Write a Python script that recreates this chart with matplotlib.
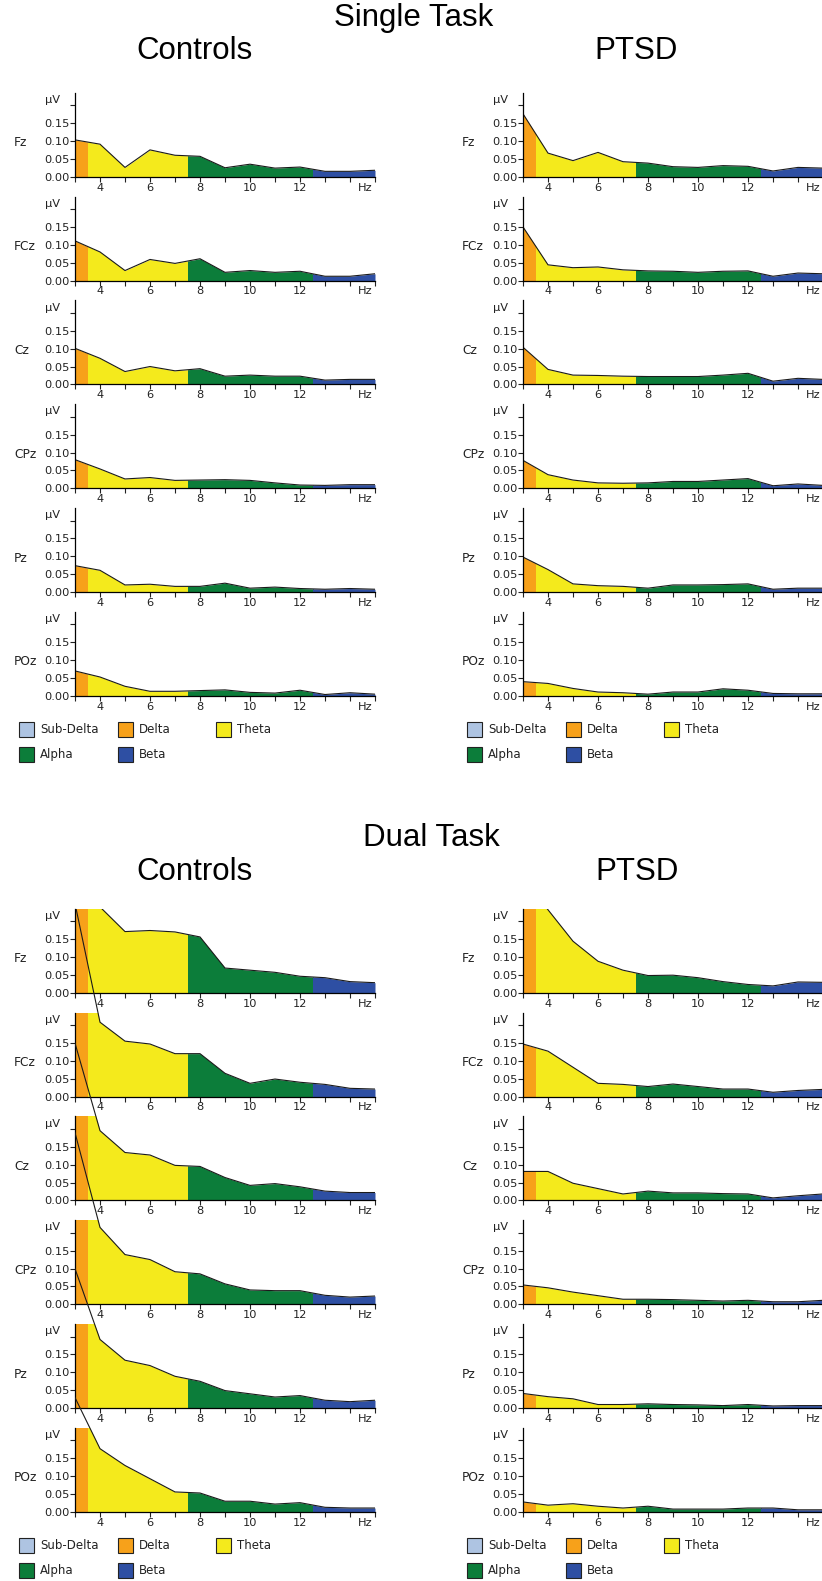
import matplotlib
matplotlib.use('Agg')
import matplotlib.pyplot as plt
from matplotlib.patches import Rectangle
from matplotlib.transforms import Bbox, TransformedBbox, blended_transform_factory

W, H = 822, 1581

freqs = [3, 4, 5, 6, 7, 8, 9, 10, 11, 12, 13, 14, 15]
electrodes = ['Fz', 'FCz', 'Cz', 'CPz', 'Pz', 'POz']

band_names = ['Sub-Delta', 'Delta', 'Theta', 'Alpha', 'Beta']
band_colors = ['#aec4e2', '#f7a11a', '#f4ea1c', '#0c7d3a', '#2e4fa3']
band_lo = [1.0, 3.0, 3.5, 7.5, 12.5]
band_hi = [3.0, 3.5, 7.5, 12.5, 15.0]

# Single task, controls (µV)
st_con_fz = [0.103, 0.091, 0.026, 0.075, 0.060, 0.057, 0.025, 0.035, 0.024, 0.027, 0.015, 0.015, 0.018]
st_con_fcz = [0.111, 0.080, 0.028, 0.059, 0.048, 0.061, 0.023, 0.028, 0.023, 0.026, 0.012, 0.012, 0.019]
st_con_cz = [0.101, 0.073, 0.036, 0.050, 0.038, 0.044, 0.023, 0.026, 0.023, 0.023, 0.012, 0.014, 0.014]
st_con_cpz = [0.080, 0.054, 0.026, 0.030, 0.022, 0.023, 0.024, 0.022, 0.015, 0.009, 0.008, 0.010, 0.010]
st_con_pz = [0.074, 0.061, 0.020, 0.022, 0.016, 0.016, 0.025, 0.011, 0.014, 0.010, 0.008, 0.010, 0.008]
st_con_poz = [0.070, 0.053, 0.027, 0.013, 0.013, 0.015, 0.017, 0.010, 0.008, 0.016, 0.004, 0.009, 0.005]

# Single task, PTSD
st_ptsd_fz = [0.176, 0.066, 0.045, 0.068, 0.042, 0.038, 0.028, 0.026, 0.031, 0.029, 0.016, 0.026, 0.024]
st_ptsd_fcz = [0.150, 0.044, 0.036, 0.038, 0.030, 0.027, 0.026, 0.023, 0.026, 0.027, 0.012, 0.021, 0.019]
st_ptsd_cz = [0.104, 0.042, 0.026, 0.025, 0.023, 0.022, 0.022, 0.022, 0.026, 0.031, 0.009, 0.017, 0.014]
st_ptsd_cpz = [0.078, 0.038, 0.023, 0.015, 0.014, 0.015, 0.019, 0.019, 0.023, 0.027, 0.007, 0.012, 0.008]
st_ptsd_pz = [0.098, 0.063, 0.023, 0.018, 0.016, 0.011, 0.020, 0.020, 0.021, 0.023, 0.008, 0.011, 0.011]
st_ptsd_poz = [0.040, 0.035, 0.021, 0.011, 0.009, 0.005, 0.011, 0.011, 0.020, 0.016, 0.007, 0.006, 0.006]

# Dual task, controls
dt_con_fz = [0.60, 0.240, 0.171, 0.174, 0.170, 0.156, 0.069, 0.063, 0.057, 0.046, 0.042, 0.031, 0.028]
dt_con_fcz = [0.54, 0.208, 0.155, 0.147, 0.120, 0.120, 0.065, 0.037, 0.049, 0.040, 0.034, 0.023, 0.021]
dt_con_cz = [0.44, 0.195, 0.134, 0.127, 0.098, 0.095, 0.064, 0.042, 0.047, 0.038, 0.026, 0.022, 0.022]
dt_con_cpz = [0.48, 0.215, 0.139, 0.125, 0.091, 0.085, 0.057, 0.040, 0.038, 0.038, 0.025, 0.020, 0.023]
dt_con_pz = [0.39, 0.192, 0.134, 0.119, 0.089, 0.075, 0.049, 0.040, 0.031, 0.035, 0.022, 0.018, 0.022]
dt_con_poz = [0.32, 0.177, 0.130, 0.093, 0.056, 0.053, 0.030, 0.030, 0.022, 0.026, 0.013, 0.011, 0.011]

# Dual task, PTSD
dt_ptsd_fz = [0.32, 0.232, 0.144, 0.088, 0.063, 0.048, 0.049, 0.042, 0.031, 0.023, 0.019, 0.030, 0.029]
dt_ptsd_fcz = [0.147, 0.127, 0.082, 0.037, 0.034, 0.028, 0.035, 0.028, 0.021, 0.021, 0.012, 0.017, 0.020]
dt_ptsd_cz = [0.081, 0.081, 0.048, 0.033, 0.018, 0.026, 0.021, 0.021, 0.019, 0.018, 0.007, 0.013, 0.018]
dt_ptsd_cpz = [0.054, 0.046, 0.034, 0.024, 0.014, 0.014, 0.013, 0.011, 0.009, 0.011, 0.007, 0.007, 0.011]
dt_ptsd_pz = [0.041, 0.032, 0.026, 0.010, 0.010, 0.012, 0.010, 0.009, 0.007, 0.010, 0.006, 0.007, 0.007]
dt_ptsd_poz = [0.028, 0.019, 0.023, 0.016, 0.011, 0.016, 0.008, 0.008, 0.008, 0.011, 0.011, 0.006, 0.006]

columns = [
    (75, 176.7, [st_con_fz, st_con_fcz, st_con_cz, st_con_cpz, st_con_pz, st_con_poz]),
    (523, 176.7, [st_ptsd_fz, st_ptsd_fcz, st_ptsd_cz, st_ptsd_cpz, st_ptsd_pz, st_ptsd_poz]),
    (75, 992.7, [dt_con_fz, dt_con_fcz, dt_con_cz, dt_con_cpz, dt_con_pz, dt_con_poz]),
    (523, 992.7, [dt_ptsd_fz, dt_ptsd_fcz, dt_ptsd_cz, dt_ptsd_cpz, dt_ptsd_pz, dt_ptsd_poz]),
]

YTOP = 0.235
AX_W, AX_H, PITCH = 300, 84, 103.85

plt.rcParams['font.family'] = 'DejaVu Sans'
fig = plt.figure(figsize=(W / 100, H / 100), dpi=100)


def fx(px):
    return px / W


def fy(py):
    return 1 - py / H


def panel(ax, vals, name, clip_top):
    for lo, hi, c in zip(band_lo, band_hi, band_colors):
        poly = ax.fill_between(freqs, vals, 0, color=c, lw=0)
        poly.set_clip_path(Rectangle((lo, 0), hi - lo, YTOP, transform=ax.transData))
    line, = ax.plot(freqs, vals, color='#1a1a1a', lw=0.8)
    # line may run up into the panel above, like in the original export
    pos = ax.get_position()
    box = Bbox.from_extents(pos.x0, pos.y0 - 0.001, pos.x1, clip_top)
    line.set_clip_box(TransformedBbox(box, fig.transFigure))

    ax.set_xlim(3, 15)
    ax.set_ylim(0, YTOP)
    ax.set_facecolor('none')
    for s in ['top', 'right']:
        ax.spines[s].set_visible(False)
    for s in ['left', 'bottom']:
        ax.spines[s].set_linewidth(0.9)
    ax.set_xticks(freqs)
    ax.set_xticklabels([str(f) if f % 2 == 0 and f < 14 else '' for f in freqs])
    ax.set_yticks([0, 0.05, 0.10, 0.15, 0.20])
    ax.set_yticklabels(['0.00', '0.05', '0.10', '0.15', ''])
    ax.tick_params(direction='out', length=3.6, width=0.8, labelsize=8.2, pad=0.6, colors='#222222')
    tr = blended_transform_factory(ax.transAxes, ax.transData)
    ax.text(-0.05, 0.215, 'µV', transform=tr, ha='right', va='center', fontsize=8.2, color='#222222')
    ax.text(-0.203, 0.095, name, transform=tr, ha='left', va='center', fontsize=8.8, color='#222222')
    ax.text(14.6, -0.07, 'Hz', transform=ax.get_xaxis_transform(), ha='center', va='top',
            fontsize=8.2, color='#222222')


for x0, base, series in columns:
    axes = []
    for i, vals in enumerate(series):
        zero = base + PITCH * i
        ax = fig.add_axes([fx(x0), fy(zero), AX_W / W, AX_H / H])
        axes.append(ax)
    for i, (ax, vals) in enumerate(zip(axes, series)):
        upper = axes[max(i - 1, 0)].get_position()
        panel(ax, vals, electrodes[i], upper.y1)

    # legend below the last panel
    ly = base + PITCH * 5
    items = [(0, 0, 0), (1, 99, 0), (2, 197, 0), (3, 0, 25), (4, 99, 25)]
    for k, dx, dy in items:
        sx = x0 - 56 + dx
        sy = ly + 34 + dy
        fig.add_artist(Rectangle((fx(sx), fy(sy + 7.5)), 15 / W, 15 / H, transform=fig.transFigure,
                                 facecolor=band_colors[k], edgecolor='#222222', lw=0.8))
        fig.text(fx(sx + 21), fy(sy), band_names[k], ha='left', va='center', fontsize=8.5, color='#222222')

title_font = dict(family='Liberation Sans', ha='center', va='center', fontsize=22.5)
fig.text(fx(414), fy(18), 'Single Task', **title_font)
fig.text(fx(194), fy(51), 'Controls', **title_font)
fig.text(fx(636), fy(51), 'PTSD', **title_font)
fig.text(fx(431), fy(838), 'Dual Task', **title_font)
fig.text(fx(194), fy(872), 'Controls', **title_font)
fig.text(fx(637), fy(872), 'PTSD', **title_font)

fig.savefig('out.png', dpi=100)
